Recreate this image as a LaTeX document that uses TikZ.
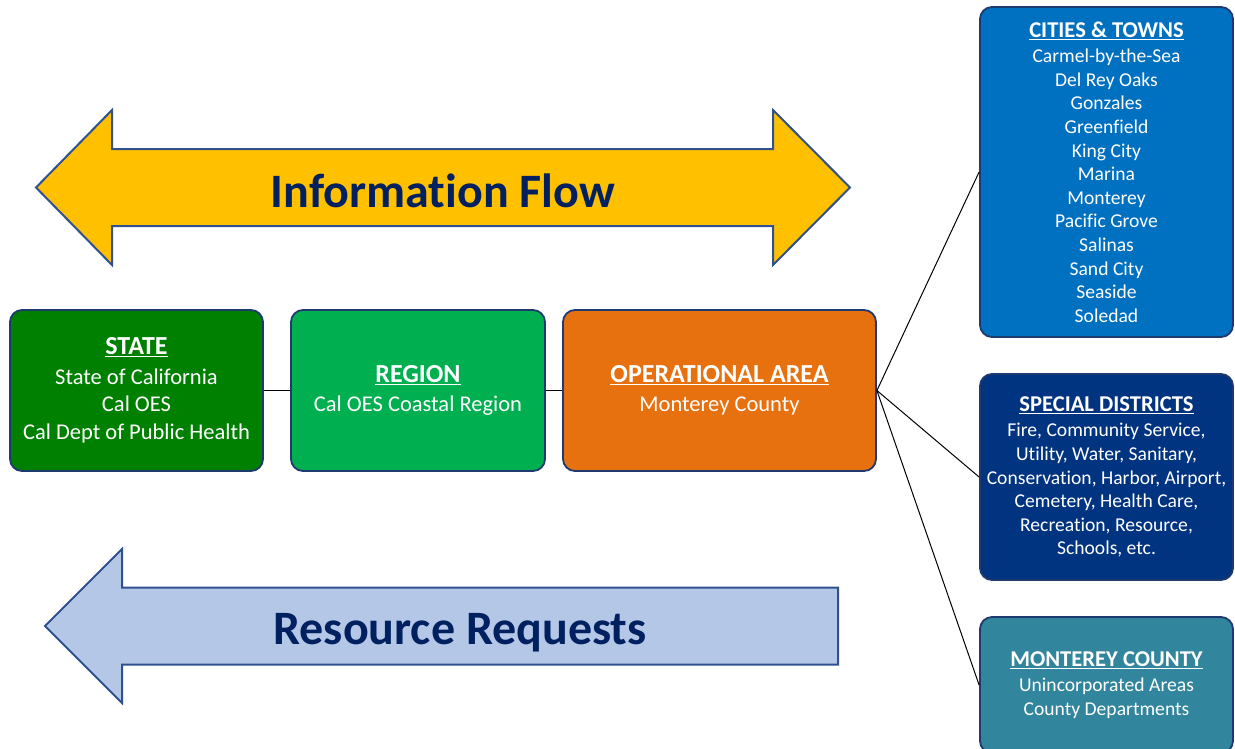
\documentclass[tikz,border=0pt]{standalone}
\usepackage{fontspec}
\setmainfont{Carlito}[Ligatures=NoCommon]
\definecolor{navy}{HTML}{002060}
\definecolor{arrowline}{HTML}{2F528F}
\definecolor{boxline}{HTML}{1F3A6E}
\definecolor{flowyellow}{HTML}{FFC000}
\definecolor{reqblue}{HTML}{B4C7E7}
\definecolor{stategreen}{HTML}{008000}
\definecolor{regiongreen}{HTML}{00B050}
\definecolor{opsorange}{HTML}{E8710F}
\definecolor{citiesblue}{HTML}{0070C0}
\definecolor{districtblue}{HTML}{003380}
\definecolor{countyteal}{HTML}{31859C}
% bold underlined heading of a box, at a given size
\newcommand{\boxtitle}[2]{{\fontsize{#1}{#1}\selectfont\textbf{\underline{#2}}}}
\begin{document}
\begin{tikzpicture}[x=1pt,y=-1pt,
  box/.style={draw=boxline, line width=1.8pt, rounded corners=12pt, text=white,
    align=center, inner sep=0pt, font=\fontsize{22.5}{27.5}\selectfont},
  sidebox/.style={box, font=\fontsize{19.6}{23.6}\selectfont},
  link/.style={draw=black, line width=1pt},
  bigarrow/.style={draw=arrowline, line width=2pt, line join=miter},
  bigtext/.style={text=navy, font=\fontsize{48}{52}\selectfont\bfseries}]
\useasboundingbox (0,0) rectangle (1235,748);

% two-headed information arrow
\path[bigarrow, fill=flowyellow]
  (36,187.5) -- (112,110) -- (112,149) -- (773,149) -- (773,110) -- (850,187.5)
  -- (773,265) -- (773,226) -- (112,226) -- (112,265) -- cycle;
\node[bigtext] (info) at (443,191) {Information Flow};

% resource request arrow pointing left
\path[bigarrow, fill=reqblue]
  (45,626) -- (122,549) -- (122,587.5) -- (838,587.5) -- (838,664.5)
  -- (122,664.5) -- (122,703) -- cycle;
\node[bigtext] (req) at (460,633) {Resource Requests};

% main hierarchy
\node[box, fill=stategreen, minimum width=253pt, minimum height=161pt] (state) at (136.5,390.5)
  {\boxtitle{26}{STATE}\\[2pt]State of California\\Cal OES\\Cal Dept of Public Health};
\node[box, fill=regiongreen, minimum width=254pt, minimum height=161pt] (region) at (418,390.5)
  {\boxtitle{26}{REGION}\\[2pt]Cal OES Coastal Region};
\node[box, fill=opsorange, minimum width=313pt, minimum height=161pt] (ops) at (719.5,390.5)
  {\boxtitle{26}{OPERATIONAL AREA}\\[2pt]Monterey County};

% local jurisdictions
\node[sidebox, fill=citiesblue, minimum width=253pt, minimum height=330pt] (cities) at (1106.5,172)
  {\boxtitle{22.6}{CITIES \& TOWNS}\\[2pt]Carmel-by-the-Sea\\Del Rey Oaks\\Gonzales\\Greenfield\\King City\\Marina\\Monterey\\Pacific Grove\\Salinas\\Sand City\\Seaside\\Soledad};
\node[sidebox, fill=districtblue, minimum width=253pt, minimum height=206pt] (districts) at (1106.5,477)
  {\boxtitle{22.6}{SPECIAL DISTRICTS}\\[2pt]Fire, Community Service,\\Utility, Water, Sanitary,\\Conservation, Harbor, Airport,\\Cemetery, Health Care,\\Recreation, Resource,\\Schools, etc.};
\node[sidebox, fill=countyteal, minimum width=253pt, minimum height=136pt] (county) at (1106.5,685)
  {\boxtitle{22.6}{MONTEREY COUNTY}\\[2pt]Unincorporated Areas\\County Departments};

% connectors
\draw[link] (state.east) -- (region.west);
\draw[link] (region.east) -- (ops.west);
\draw[link] (ops.east) -- (cities.west);
\draw[link] (ops.east) -- (districts.west);
\draw[link] (ops.east) -- (county.west);
\end{tikzpicture}
\end{document}
